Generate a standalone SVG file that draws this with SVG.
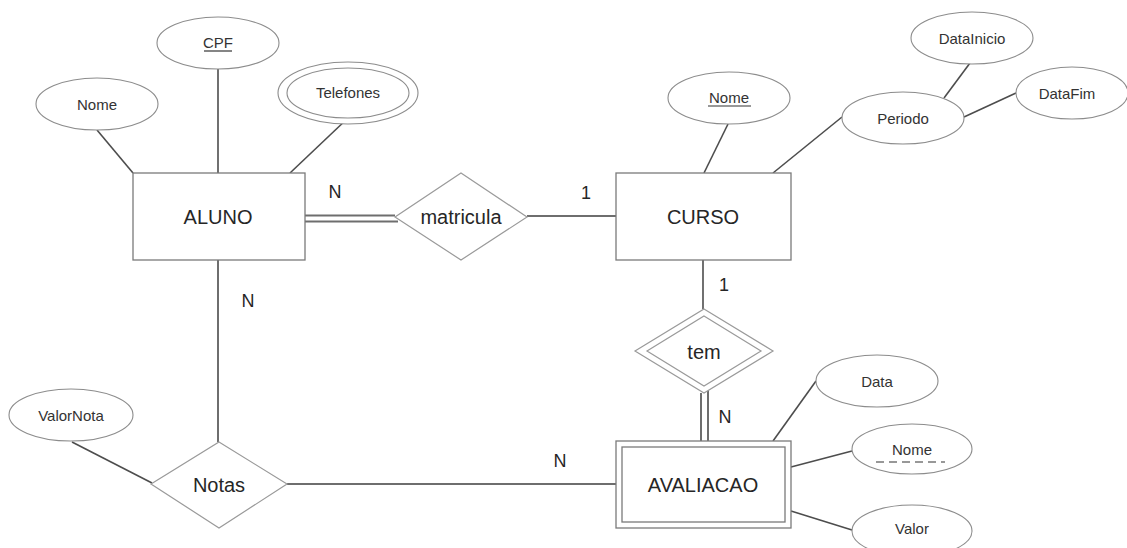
<svg xmlns="http://www.w3.org/2000/svg" width="1127" height="548" viewBox="0 0 1127 548">
<style>
  .bg{fill:#ffffff}
  .ent{fill:#ffffff;stroke:#7a7a7a;stroke-width:1.3}
  .rel{fill:#ffffff;stroke:#9a9a9a;stroke-width:1.2}
  .att{fill:#ffffff;stroke:#8c8c8c;stroke-width:1.1}
  .ln{stroke:#4d4d4d;stroke-width:1.6;fill:none}
  .lnl{stroke:#6e6e6e;stroke-width:2;fill:none}
  .big{font-family:"Liberation Sans",Arial,sans-serif;font-size:20px;fill:#262626;text-anchor:middle;dominant-baseline:central}
  .small{font-family:"Liberation Sans",Arial,sans-serif;font-size:15px;fill:#333333;text-anchor:middle;dominant-baseline:central}
  .card{font-family:"Liberation Sans",Arial,sans-serif;font-size:18px;fill:#262626;text-anchor:middle;dominant-baseline:central}
  .ul{stroke:#333333;stroke-width:1.2}
</style>
<rect class="bg" x="0" y="0" width="1127" height="548"/>

<g id="connectors">
  <!-- ALUNO attributes -->
  <line class="ln" x1="97" y1="130" x2="133" y2="173"/>
  <line class="ln" x1="218" y1="69" x2="218" y2="173"/>
  <line class="ln" x1="348" y1="118" x2="290" y2="173"/>
  <!-- ALUNO = matricula (double) -->
  <line class="lnl" x1="305" y1="215.5" x2="395" y2="215.5" stroke-width="1.6"/>
  <line class="lnl" x1="305" y1="221.5" x2="398" y2="221.5" stroke-width="1.6"/>
  <!-- matricula - CURSO -->
  <line class="lnl" x1="527" y1="216" x2="616" y2="216"/>
  <!-- CURSO attributes -->
  <line class="ln" x1="728" y1="124" x2="704" y2="173"/>
  <line class="ln" x1="842" y1="117" x2="773" y2="173"/>
  <line class="ln" x1="970" y1="63" x2="944" y2="98"/>
  <line class="ln" x1="1016" y1="93" x2="964" y2="117"/>
  <!-- CURSO - tem -->
  <line class="ln" x1="703" y1="260" x2="703" y2="309"/>
  <!-- tem = AVALIACAO (double) -->
  <line class="lnl" x1="701" y1="393" x2="701" y2="441" stroke-width="1.6"/>
  <line class="lnl" x1="708" y1="390" x2="708" y2="441" stroke-width="1.6"/>
  <!-- AVALIACAO attributes -->
  <line class="ln" x1="816" y1="381" x2="773" y2="441"/>
  <line class="ln" x1="852" y1="451" x2="791" y2="467"/>
  <line class="ln" x1="791" y1="511" x2="852" y2="530"/>
  <!-- ALUNO - Notas -->
  <line class="lnl" x1="218" y1="260" x2="218" y2="442"/>
  <!-- Notas - AVALIACAO -->
  <line class="lnl" x1="287" y1="484" x2="616" y2="484"/>
  <!-- ValorNota - Notas -->
  <line class="ln" x1="72" y1="442" x2="152" y2="483"/>
</g>

<g id="aluno">
  <rect class="ent" x="133" y="173" width="172" height="87"/>
  <text class="big" x="218" y="217">ALUNO</text>
</g>
<g id="aluno-nome">
  <ellipse class="att" cx="97" cy="104" rx="61" ry="26"/>
  <text class="small" x="97" y="104">Nome</text>
</g>
<g id="aluno-cpf">
  <ellipse class="att" cx="218" cy="43" rx="61" ry="26"/>
  <text class="small" x="218" y="42">CPF</text>
  <line class="ul" x1="204" y1="51" x2="232" y2="51"/>
</g>
<g id="aluno-telefones">
  <ellipse class="att" cx="348" cy="93" rx="70" ry="31"/>
  <ellipse class="att" cx="348" cy="93" rx="61" ry="25"/>
  <text class="small" x="348" y="92">Telefones</text>
</g>

<g id="matricula">
  <polygon class="rel" points="461,173 527,217 461,260 395,217"/>
  <text class="big" x="461" y="217">matricula</text>
</g>

<g id="curso">
  <rect class="ent" x="616" y="173" width="175" height="87"/>
  <text class="big" x="703" y="217">CURSO</text>
</g>
<g id="curso-nome">
  <ellipse class="att" cx="729" cy="98" rx="61" ry="26"/>
  <text class="small" x="729" y="97">Nome</text>
  <line class="ul" x1="708" y1="106" x2="751" y2="106"/>
</g>
<g id="curso-periodo">
  <ellipse class="att" cx="903" cy="118" rx="61" ry="26"/>
  <text class="small" x="903" y="118">Periodo</text>
</g>
<g id="curso-datainicio">
  <ellipse class="att" cx="972" cy="38" rx="61" ry="26"/>
  <text class="small" x="972" y="38">DataInicio</text>
</g>
<g id="curso-datafim">
  <ellipse class="att" cx="1072" cy="93" rx="56" ry="26"/>
  <text class="small" x="1067" y="93">DataFim</text>
</g>

<g id="tem">
  <polygon class="rel" points="704,309 773,351 704,393 635,351"/>
  <polygon class="rel" points="704,316 761,351 704,386 647,351"/>
  <text class="big" x="704" y="352">tem</text>
</g>

<g id="avaliacao">
  <rect class="ent" x="616" y="441" width="175" height="87"/>
  <rect class="ent" x="622" y="447" width="163" height="75"/>
  <text class="big" x="703" y="485">AVALIACAO</text>
</g>
<g id="avaliacao-data">
  <ellipse class="att" cx="877" cy="381" rx="61" ry="26"/>
  <text class="small" x="877" y="381">Data</text>
</g>
<g id="avaliacao-nome">
  <ellipse class="att" cx="912" cy="449" rx="60" ry="25"/>
  <text class="small" x="912" y="449">Nome</text>
  <line class="ul" x1="876" y1="462" x2="945" y2="462" stroke-dasharray="8,5"/>
</g>
<g id="avaliacao-valor">
  <ellipse class="att" cx="912" cy="531" rx="60" ry="26"/>
  <text class="small" x="912" y="528">Valor</text>
</g>

<g id="notas">
  <polygon class="rel" points="219,442 287,484 219,528 151,484"/>
  <text class="big" x="219" y="485">Notas</text>
</g>
<g id="notas-valornota">
  <ellipse class="att" cx="71" cy="415" rx="62" ry="26"/>
  <text class="small" x="71" y="415">ValorNota</text>
</g>

<g id="cardinalities">
  <text class="card" x="335" y="192">N</text>
  <text class="card" x="586" y="193">1</text>
  <text class="card" x="248" y="301">N</text>
  <text class="card" x="724" y="285">1</text>
  <text class="card" x="725" y="417">N</text>
  <text class="card" x="560" y="461">N</text>
</g>
</svg>
